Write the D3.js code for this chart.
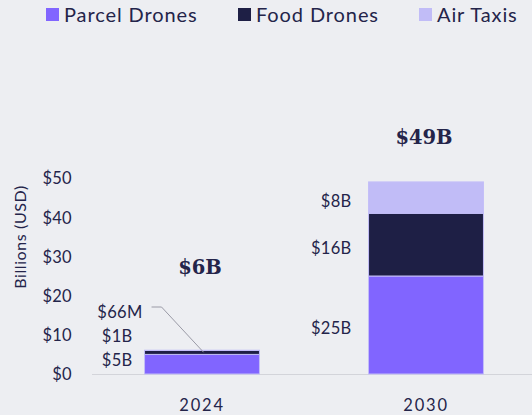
<!DOCTYPE html>
<html>
<head>
<meta charset="utf-8">
<script src="https://cdn.jsdelivr.net/npm/d3@7"></script>
<style>
  html, body { margin: 0; padding: 0; background: #edeef2; }
  svg { display: block; }
  text { font-family: Lato, "Open Sans", sans-serif; fill: #24244a; }
</style>
</head>
<body>
<svg id="chart" width="532" height="415"></svg>
<script>
// Market size by segment, billions of USD
const years = ["2024", "2030"];
const seriesNames = ["Parcel Drones", "Food Drones", "Air Taxis"];
const parcelDrones = [5, 25];
const foodDrones = [1, 16];
const airTaxis = [0.066, 8];
const segmentLabels = [["$5B", "$1B", "$66M"], ["$25B", "$16B", "$8B"]];
const totalLabels = ["$6B", "$49B"];
const yTicks = [0, 10, 20, 30, 40, 50];
const yTickLabels = ["$0", "$10", "$20", "$30", "$40", "$50"];

const colors = ["#8165ff", "#1e1f45", "#c1bcf7"];

const svg = d3.select("#chart");
const W = 532, H = 415;

const rows = years.map((yr, i) => ({
  year: yr,
  "Parcel Drones": parcelDrones[i],
  "Food Drones": foodDrones[i],
  "Air Taxis": airTaxis[i]
}));
const stacked = d3.stack().keys(seriesNames)(rows);

const x = d3.scaleBand().domain(years).range([90, 538])
  .paddingInner(0.487).paddingOuter(0.2435);
const y = d3.scaleLinear().domain([0, 50]).range([374, 178]);

// Legend
const legendX = [46, 238, 419];
const legend = svg.append("g");
seriesNames.forEach((name, i) => {
  const g = legend.append("g").attr("transform", `translate(${legendX[i]},8)`);
  g.append("rect").attr("width", 13).attr("height", 13).attr("fill", colors[i]);
  g.append("text").attr("x", 18).attr("y", 13.5)
    .style("font-size", "20px").style("letter-spacing", "0.9px")
    .text(name);
});

// Y axis labels (no domain line, no tick marks)
const yAxis = d3.axisLeft(y).tickValues(yTicks)
  .tickFormat((d, i) => yTickLabels[i]).tickSize(0).tickPadding(0);
const yg = svg.append("g").attr("transform", "translate(72,0)").call(yAxis);
yg.select(".domain").remove();
yg.selectAll("text").attr("fill", "#24244a")
  .style("font-family", "Lato, sans-serif").style("font-size", "16.5px")
  .style("letter-spacing", "0.3px")
  .attr("dy", "0.36em");

svg.append("text")
  .attr("transform", `translate(26,${237}) rotate(-90)`)
  .attr("text-anchor", "middle")
  .style("font-size", "16px").style("letter-spacing", "0.6px")
  .attr("fill", "#3a3b5e")
  .text("Billions (USD)");

// Baseline
svg.append("line").attr("x1", 92).attr("x2", W)
  .attr("y1", y(0) + 0.5).attr("y2", y(0) + 0.5)
  .attr("stroke", "#d3d4da").attr("stroke-width", 1.2);

// X axis labels
const xAxis = d3.axisBottom(x).tickSize(0).tickPadding(0);
const xg = svg.append("g").attr("transform", `translate(0,${y(0)})`).call(xAxis);
xg.select(".domain").remove();
xg.selectAll("text").attr("fill", "#24244a")
  .style("font-family", "Lato, sans-serif").style("font-size", "16.5px")
  .style("letter-spacing", "1.8px")
  .attr("dy", "0").attr("y", 37);

// Stacked bars
stacked.forEach((layer, k) => {
  svg.append("g").selectAll("rect").data(layer).join("rect")
    .attr("x", d => x(d.data.year))
    .attr("width", x.bandwidth())
    .attr("y", d => y(d[1]))
    .attr("height", d => Math.max(y(d[0]) - y(d[1]), 0))
    .attr("fill", colors[k])
    .attr("stroke", "#c3bef8").attr("stroke-width", 1);
});

// Segment labels, stacked upward so small segments do not collide
const labelGap = [12, 17];
years.forEach((yr, i) => {
  const left = x(yr) - labelGap[i];
  let prevY = Infinity;
  stacked.forEach((layer, k) => {
    const d = layer[i];
    const mid = (y(d[0]) + y(d[1])) / 2;
    const ly = Math.min(mid + 3, y(0) - 14, prevY - 24);
    prevY = ly;
    const segH = y(d[0]) - y(d[1]);
    const withLeader = segH < 2;
    const tx = withLeader ? x(yr) - 2 : left;
    svg.append("text")
      .attr("x", tx).attr("y", ly).attr("dy", "0.36em")
      .attr("text-anchor", "end")
      .style("font-size", "16.5px").style("letter-spacing", "0.3px")
      .text(segmentLabels[i][k]);
    if (withLeader) {
      const x0 = x(yr) + 7, x1 = x(yr) + 17;
      const yl = ly - 5;
      svg.append("path")
        .attr("d", `M${x0},${yl}H${x1}L${x(yr) + 59},${y(d[1]) + 2}`)
        .attr("fill", "none").attr("stroke", "#9a9aa6").attr("stroke-width", 1);
    }
  });
});

// Totals above bars
const totalOffsets = [83, 45];
years.forEach((yr, i) => {
  const total = parcelDrones[i] + foodDrones[i] + airTaxis[i];
  svg.append("text")
    .attr("x", x(yr) + x.bandwidth() / 2 - 2)
    .attr("y", y(total) - totalOffsets[i])
    .attr("dy", "0.36em")
    .attr("text-anchor", "middle")
    .style("font-family", "'DejaVu Serif', serif")
    .style("font-weight", "bold")
    .style("font-size", "19.5px")
    .attr("fill", "#24244a")
    .text(totalLabels[i]);
});
</script>
</body>
</html>
